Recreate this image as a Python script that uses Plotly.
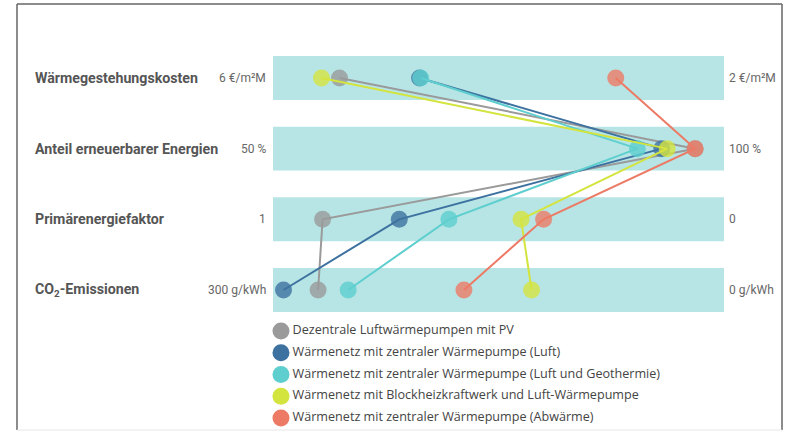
import plotly.graph_objects as go

# Criteria (top to bottom) with the value at the left and right end of each band
criteria = ["Wärmegestehungskosten", "Anteil erneuerbarer Energien",
            "Primärenergiefaktor", "CO<sub>2</sub>-Emissionen"]
left_values = [6, 50, 1, 300]
right_values = [2, 100, 0, 0]
left_labels = ["6 €/m²M", "50 %", "1", "300 g/kWh"]
right_labels = ["2 €/m²M", "100 %", "0", "0 g/kWh"]

# Heating concepts
concepts = [
    "Dezentrale Luftwärmepumpen mit PV",
    "Wärmenetz mit zentraler Wärmepumpe (Luft)",
    "Wärmenetz mit zentraler Wärmepumpe (Luft und Geothermie)",
    "Wärmenetz mit Blockheizkraftwerk und Luft-Wärmepumpe",
    "Wärmenetz mit zentraler Wärmepumpe (Abwärme)",
]
colors = ["#9a9a9a", "#3d72a0", "#5ecece", "#d4e43e", "#ec7a65"]

# Values per concept
kosten = [5.41, 4.70, 4.69, 5.57, 2.96]          # €/m²M
erneuerbar = [96.8, 93.1, 90.4, 93.7, 96.8]      # %
primaerenergie = [0.89, 0.72, 0.61, 0.45, 0.40]  # Faktor
co2 = [270, 293, 250, 128, 173]                  # g/kWh

series_by_criterion = [kosten, erneuerbar, primaerenergie, co2]
n_rows = len(criteria)
row_y = [n_rows - 1 - i for i in range(n_rows)]  # top row highest

BAND = "#b7e5e5"
LABEL_FONT = "Roboto"

fig = go.Figure()

# Shaded band for every criterion
half = 0.311
for y in row_y:
    fig.add_shape(type="rect", xref="x", yref="y", x0=0, x1=1,
                  y0=y - half, y1=y + half, fillcolor=BAND,
                  line=dict(width=0), layer="below")

# One line per concept through the normalised position on each band
for j, (name, col) in enumerate(zip(concepts, colors)):
    xs = []
    for vals, lo, hi in zip(series_by_criterion, left_values, right_values):
        xs.append((vals[j] - lo) / (hi - lo))
    fig.add_trace(go.Scatter(
        x=xs, y=row_y, mode="lines+markers", name=name,
        line=dict(color=col, width=2),
        marker=dict(color=col, size=17, opacity=0.8, line=dict(width=0)),
        cliponaxis=False, showlegend=False, hoverinfo="skip",
    ))

# Legend drawn as its own small panel below the bands
fig.add_trace(go.Scatter(
    x=[0.0177] * len(concepts), y=list(range(len(concepts))),
    xaxis="x2", yaxis="y2", mode="markers+text",
    marker=dict(color=colors, size=17, line=dict(width=0)),
    text=concepts, textposition="middle right",
    textfont=dict(family="Open Sans", size=12.6, color="#444444"),
    cliponaxis=False, showlegend=False, hoverinfo="skip",
))

annotations = []
for y, name, ll, rl in zip(row_y, criteria, left_labels, right_labels):
    annotations.append(dict(
        x=(33 - 273) / 451, y=y, xref="paper", yref="y", text=name,
        showarrow=False, xanchor="left", yanchor="middle",
        font=dict(family=LABEL_FONT, size=14.2, color="#555555", weight="bold")))
    annotations.append(dict(
        x=-0.011, y=y, xref="paper", yref="y", text=ll,
        showarrow=False, xanchor="right", yanchor="middle",
        font=dict(family=LABEL_FONT, size=12, color="#666666")))
    annotations.append(dict(
        x=1.006, y=y, xref="paper", yref="y", text=rl,
        showarrow=False, xanchor="left", yanchor="middle",
        font=dict(family=LABEL_FONT, size=12, color="#666666")))

# Outer frame
frame_left, frame_right = (17 - 273) / 451, (782 - 273) / 451
frame_bottom = (433 - 430) / 429
shapes_frame = [
    dict(type="line", xref="paper", yref="paper", x0=frame_left, x1=frame_left,
         y0=frame_bottom, y1=1.0, line=dict(color="#666666", width=1.5)),
    dict(type="line", xref="paper", yref="paper", x0=frame_right, x1=frame_right,
         y0=frame_bottom, y1=1.0, line=dict(color="#666666", width=1.5)),
    dict(type="line", xref="paper", yref="paper", x0=frame_left, x1=frame_right,
         y0=1.0, y1=1.0, line=dict(color="#666666", width=1.5)),
    dict(type="line", xref="paper", yref="paper", x0=frame_left, x1=frame_right,
         y0=frame_bottom, y1=frame_bottom, line=dict(color="#e6e6e6", width=1)),
]
for s in shapes_frame:
    fig.add_shape(**s)

fig.update_layout(
    width=786, height=433,
    margin=dict(l=273, r=62, t=4, b=0),
    paper_bgcolor="white", plot_bgcolor="rgba(0,0,0,0)",
    showlegend=False,
    annotations=annotations,
    xaxis=dict(range=[0, 1], domain=[0, 1], visible=False, fixedrange=True),
    yaxis=dict(range=[-half, n_rows - 1 + half], domain=[0.2821, 0.8788],
               visible=False, fixedrange=True),
    xaxis2=dict(range=[0, 1], domain=[0, 1], anchor="y2", visible=False),
    yaxis2=dict(range=[4.69, -0.874], domain=[0, 0.2821], anchor="x2",
                visible=False),
)

fig.write_html("out.html")
